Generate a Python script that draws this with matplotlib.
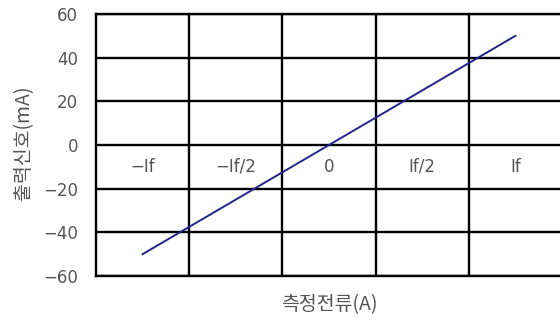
import matplotlib
matplotlib.use("Agg")
import matplotlib.pyplot as plt

plt.rcParams['font.family'] = ['DejaVu Sans', 'Noto Sans CJK KR']
plt.rcParams['axes.unicode_minus'] = True

# Measured current, in units of the rated current If
current = [-1.0, 1.0]
# Output signal (mA)
output = [-50, 50]

column_labels = ['\u2212If', '\u2212If/2', '0', 'If/2', 'If']
column_centers = [-1.0, -0.5, 0.0, 0.5, 1.0]
column_edges = [-0.75, -0.25, 0.25, 0.75]
y_ticks = [-60, -40, -20, 0, 20, 40, 60]

text_color = '#555555'
korean = ['Noto Sans CJK KR', 'DejaVu Sans']

fig = plt.figure(figsize=(5.6, 3.22), dpi=100)
ax = fig.add_axes([96 / 560, 1 - 276 / 322, 466 / 560, 262 / 322])

ax.set_xlim(-1.25, 1.25)
ax.set_ylim(-60, 60)

ax.set_xticks(column_edges)
ax.set_xticklabels([])
ax.set_yticks(y_ticks)
ax.set_yticklabels([str(v).replace('-', '\u2212') for v in y_ticks])
ax.tick_params(length=0, labelsize=12, labelcolor=text_color, pad=13)
ax.grid(True, color='black', linewidth=1.7)
ax.set_axisbelow(True)
for s in ax.spines.values():
    s.set_linewidth(1.7)
    s.set_color('black')

ax.plot(current, output, color='#23238a', linewidth=1.4, zorder=3)

for xc, lab in zip(column_centers, column_labels):
    ax.text(xc, -10, lab, ha='center', va='center', fontsize=12, color=text_color)

ax.set_ylabel('출력신호(mA)', fontsize=14, color=text_color, family=korean, va='center')
ax.yaxis.set_label_coords(-72 / 466, 0.51)
ax.set_xlabel('측정전류(A)', fontsize=14, color=text_color, family=korean, va='center')
ax.xaxis.set_label_coords(0.5, -29 / 262)

fig.savefig('out.png', dpi=100, facecolor='white')
